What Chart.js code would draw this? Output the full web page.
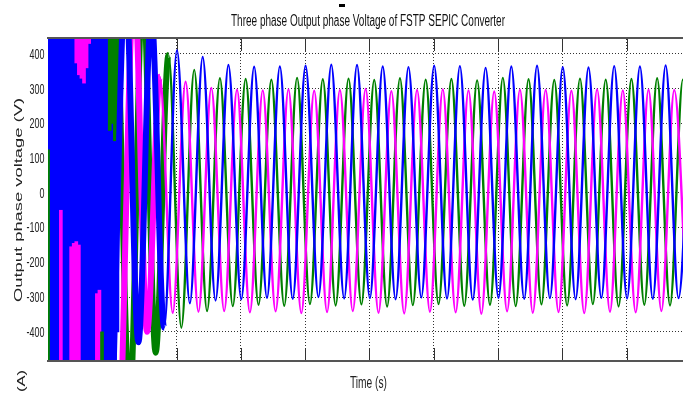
<!DOCTYPE html>
<html><head><meta charset="utf-8">
<script src="https://cdn.jsdelivr.net/npm/chart.js@4/dist/chart.umd.min.js"></script>
<style>html,body{margin:0;padding:0;background:#fff;overflow:hidden}#wrap{width:684px;height:394px;position:relative}</style>
</head><body><div id="wrap"><canvas id="c" width="684" height="394"></canvas></div>
<script>
const chartTitle = 'Three phase Output phase Voltage of FSTP SEPIC Converter';
const xTitle = 'Time (s)';
const yTitle = 'Output phase voltage (V)';
const panelTag = '(A)';
const xTicks = [0, 0.05, 0.1, 0.15, 0.2, 0.25, 0.3, 0.35, 0.4, 0.45];
const yTicks = [-400, -300, -200, -100, 0, 100, 200, 300, 400];
const xRange = [0, 0.4938];
const yRange = [-481, 443];

// start-up transient: clipped high-frequency bands, sampled every 2 ms
const bandLimit = 600;
const bandT = [0,0.002,0.004,0.006,0.008,0.010,0.012,0.014,0.016,0.018,0.020,0.022,0.024,0.026,0.028,0.030,0.032,0.034,0.036,0.038,0.040,0.042,0.044,0.046,0.048,0.050,0.052,0.054,0.056,0.058,0.060,0.062,0.064];
const blueBandTop      = [-600,-600,-600,-600,-600,-600,-600,-600,-600,-600,-600,-600,-600,-600,-600,-600,-600,-600,-600,-600,-600,-600,-600,-600,-600,-600,-600,-400,120,null,null,null,null];
const magentaBandTop   = [null,null,null,null,null,null,null,null,null,null,null,374,340,330,316,360,430,null,null,null,null,null,null,null,null,null,null,null,null,null,null,null,null];
const magentaBandBottom= [null,null,null,null,null,-50,null,null,null,-155,-145,-140,-150,null,null,null,null,null,null,-290,-280,null,null,null,null,null,null,null,null,null,null,null,null];
const greenBandTop     = [null,null,null,null,null,null,null,null,null,null,null,null,null,null,null,null,null,null,null,null,null,null,null,null,180,200,150,170,null,null,null,null,null];
const greenBandBottom  = [124,null,null,null,null,null,null,null,null,null,null,null,null,null,null,null,null,null,null,null,null,-400,null,null,null,null,null,null,null,null,null,null,null];

// alternating extreme values of each phase, one every half period (10 ms)
const halfPeriod = 0.01;
const blueStart = 0.0503;
const blueExtremes = [-600,600,-430,520,-388,411,-318,391,-310,368,-306,363,-302,364,-305,366,-300,369,-304,368,-303,364,-306,362,-301,366,-304,365,-307,360,-302,364,-305,366,-303,362,-306,361,-302,365,-304,364,-305,367,-303,364];
const magentaStart = 0.0570;
const magentaExtremes = [-600,600,-400,334,-345,320,-342,302,-340,297,-344,295,-341,298,-346,294,-343,296,-340,299,-345,293,-347,296,-342,298,-344,295,-348,292,-341,297,-345,296,-343,294,-346,298,-342,295,-344,297,-340,296,-345];
const greenStart = 0.0537;
const greenExtremes = [600,-600,600,-460,397,-388,354,-340,330,-326,328,-322,326,-325,331,-320,327,-324,329,-321,325,-327,330,-323,326,-320,328,-325,324,-322,331,-326,327,-321,325,-324,329,-320,326,-327,328,-322,330,-324,326,-323];

function bandData(edges, fromTop) {
  const out = [];
  edges.forEach((e, k) => { if (e !== null) out.push({x: bandT[k], y: fromTop ? [e, bandLimit] : [-bandLimit, e]}); });
  return out;
}
function waveData(start, vals) {
  return vals.map((v, i) => ({x: start + i * halfPeriod, y: v}));
}
const BLUE = '#0000ff', MAGENTA = '#ff00ff', GREEN = '#008000';
function bandSet(data, color, order) {
  return {type: 'bar', data, backgroundColor: color, borderWidth: 0, barThickness: 3, grouped: false, order, clip: 0};
}
function lineSet(data, color, order) {
  return {type: 'line', data, borderColor: color, borderWidth: 2.4, pointRadius: 0, cubicInterpolationMode: 'monotone',
    fill: false, order, clip: 0,
    segment: {borderWidth: c => c.p0.parsed.x < 0.085 ? 6 : 2.4}};
}

function txt(ctx, s, x, y, font, o) {
  ctx.save(); ctx.font = font; ctx.translate(x, y);
  if (o.rot) ctx.rotate(o.rot);
  let sx = o.sx || 1;
  if (o.len) sx = o.len / ctx.measureText(s).width;
  ctx.scale(sx, o.sy || 1);
  ctx.textAlign = o.align || 'center'; ctx.textBaseline = o.base || 'alphabetic';
  ctx.fillStyle = o.color || '#111';
  ctx.fillText(s, 0, 0); ctx.restore();
}
const FONT = '"Liberation Sans", Arial, sans-serif';

const decor = {
  id: 'decor',
  beforeDatasetsDraw(chart) {
    const {ctx, chartArea: a, scales: {x}} = chart;
    ctx.save(); ctx.strokeStyle = '#333'; ctx.lineWidth = 1;
    xTicks.forEach(v => {
      const px = Math.round(x.getPixelForValue(v)) + 0.5;
      ctx.beginPath(); ctx.moveTo(px, a.bottom); ctx.lineTo(px, a.bottom - 12);
      ctx.moveTo(px, a.top); ctx.lineTo(px, a.top + 12); ctx.stroke();
    });
    ctx.restore();
  },
  afterDraw(chart) {
    const {ctx, chartArea: a, scales: {y}} = chart;
    ctx.save();
    ctx.fillStyle = '#555';
    ctx.fillRect(a.left - 1, a.top - 2, a.right - a.left + 1, 2);
    ctx.fillRect(a.left - 1, a.bottom, a.right - a.left + 1, 2);
    ctx.fillStyle = '#000';
    ctx.fillRect(339, 4, 6, 3);
    ctx.restore();
    yTicks.forEach(v => txt(ctx, String(v), 44.5, y.getPixelForValue(v) + 1, '14px ' + FONT,
      {sx: 0.64, align: 'right', base: 'middle', color: '#222'}));
    txt(ctx, chartTitle, 368, 25.5, '16px ' + FONT, {len: 274});
    txt(ctx, xTitle, 368.5, 388, '16px ' + FONT, {len: 37, color: '#222'});
    txt(ctx, yTitle, 21.5, 200, '18px ' + FONT, {len: 204, sy: 0.64, rot: -Math.PI / 2, color: '#222'});
    txt(ctx, panelTag, 25, 381, '18px ' + FONT, {len: 22, sy: 0.64, rot: -Math.PI / 2, color: '#222'});
  }
};

new Chart(document.getElementById('c'), {
  type: 'line',
  data: {datasets: [
    lineSet(waveData(blueStart, blueExtremes), BLUE, 1),
    lineSet(waveData(magentaStart, magentaExtremes), MAGENTA, 2),
    lineSet(waveData(greenStart, greenExtremes), GREEN, 3),
    bandSet(bandData(greenBandTop, true), GREEN, 8),
    bandSet(bandData(greenBandBottom, false), GREEN, 8),
    bandSet(bandData(magentaBandTop, true), MAGENTA, 9),
    bandSet(bandData(magentaBandBottom, false), MAGENTA, 9),
    bandSet(bandData(blueBandTop, true), BLUE, 10)
  ]},
  options: {
    responsive: false, animation: false, events: [],
    layout: {padding: {top: 39, bottom: 34, left: 0, right: 1}},
    plugins: {legend: {display: false}, tooltip: {enabled: false}, title: {display: false}},
    scales: {
      x: {type: 'linear', min: xRange[0], max: xRange[1], offset: false,
        afterBuildTicks: s => { s.ticks = xTicks.map(v => ({value: v})); },
        afterFit: s => { s.height = 0; },
        ticks: {display: false},
        grid: {color: '#333', lineWidth: 1, drawTicks: false, offset: false},
        border: {display: false, dash: [1, 2]}},
      y: {type: 'linear', min: yRange[0], max: yRange[1],
        afterBuildTicks: s => { s.ticks = yTicks.map(v => ({value: v})); },
        afterFit: s => { s.width = 48; },
        ticks: {display: false},
        grid: {color: '#333', lineWidth: 1, drawTicks: false},
        border: {display: false, dash: [1, 2]}}
    }
  },
  plugins: [decor]
});
</script></body></html>
